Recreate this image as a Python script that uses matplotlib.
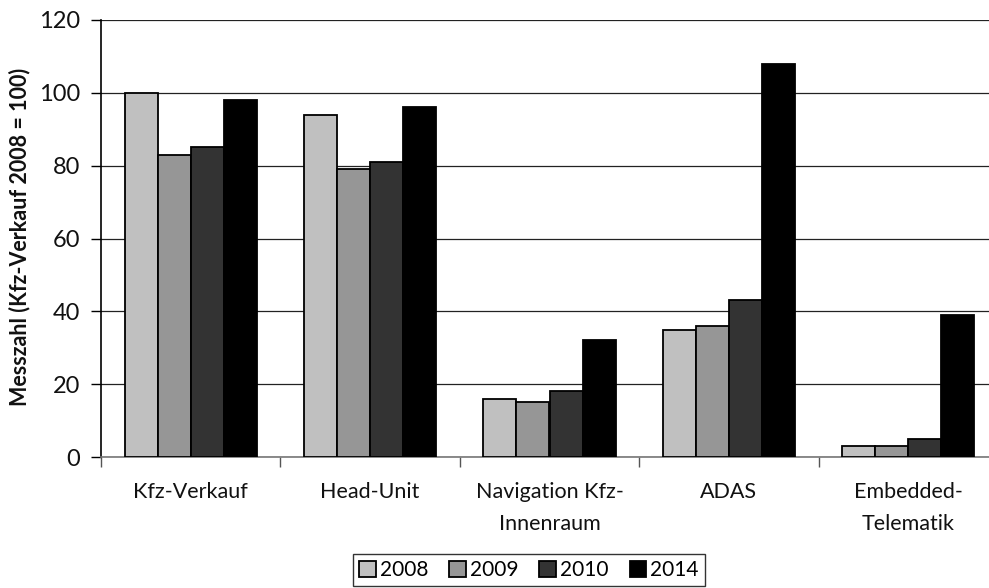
import matplotlib
matplotlib.use("Agg")
import matplotlib.pyplot as plt
import numpy as np

categories = ["Kfz-Verkauf", "Head-Unit", "Navigation Kfz-\nInnenraum", "ADAS", "Embedded-\nTelematik"]
years = ["2008", "2009", "2010", "2014"]
v2008 = [100, 94, 16, 35, 3]
v2009 = [83, 79, 15, 36, 3]
v2010 = [85, 81, 18, 43, 5]
v2014 = [98, 96, 32, 108, 39]
series = [v2008, v2009, v2010, v2014]
colors = ["#c0c0c0", "#969696", "#333333", "#000000"]

plt.rcParams['font.family'] = ['Lato', 'DejaVu Sans']

W, H = 989, 588
fig = plt.figure(figsize=(W / 100, H / 100), dpi=100)
left, right, top, bottom = 101, 998, 20, 457
ax = fig.add_axes([left / W, 1 - bottom / H, (right - left) / W, (bottom - top) / H])

x = np.arange(len(categories))
bw = 33 / 179
for i, (vals, c) in enumerate(zip(series, colors)):
    ax.bar(x + (i - 1.5) * bw, vals, width=bw, color=c, edgecolor="black",
           linewidth=1.3, label=years[i], zorder=3)

ax.set_xlim(-0.5, len(categories) - 0.5)
ax.set_ylim(0, 120)
ax.set_yticks(np.arange(0, 121, 20))
ax.yaxis.grid(True, color="#222222", linewidth=0.9, zorder=0)
ax.set_axisbelow(True)

ax.set_xticks(np.arange(-0.5, len(categories), 1.0))
ax.set_xticklabels([])
ax.set_xticks(x, minor=True)
ax.set_xticklabels(categories, minor=True, fontsize=15.5, color="#111111", linespacing=1.75)
ax.tick_params(axis="x", which="minor", length=0, pad=18)
ax.tick_params(axis="x", which="major", length=7, width=1, color="#555555", direction="out")
ax.tick_params(axis="y", length=7, width=1, direction="out", labelsize=17, pad=8, labelcolor="#111111")

for s in ["top", "right"]:
    ax.spines[s].set_visible(False)
ax.spines["left"].set_color("black")
ax.spines["left"].set_linewidth(1.2)
ax.spines["bottom"].set_color("#777777")
ax.spines["bottom"].set_linewidth(1.2)

fig.text(20 / W, 1 - 237 / H, "Messzahl (Kfz-Verkauf 2008 = 100)", rotation=90,
         ha="center", va="center", fontsize=15.5, fontweight="bold", color="#111111")

leg = fig.legend(loc="center", bbox_to_anchor=(529 / W, 1 - 570 / H), ncol=4,
                 frameon=True, fancybox=False, edgecolor="black", fontsize=15,
                 handlelength=0.8, handleheight=0.8, handletextpad=0.2,
                 columnspacing=1.0, borderpad=0.3)
leg.get_frame().set_linewidth(1.0)

fig.savefig("out.png", dpi=100, facecolor="white")
